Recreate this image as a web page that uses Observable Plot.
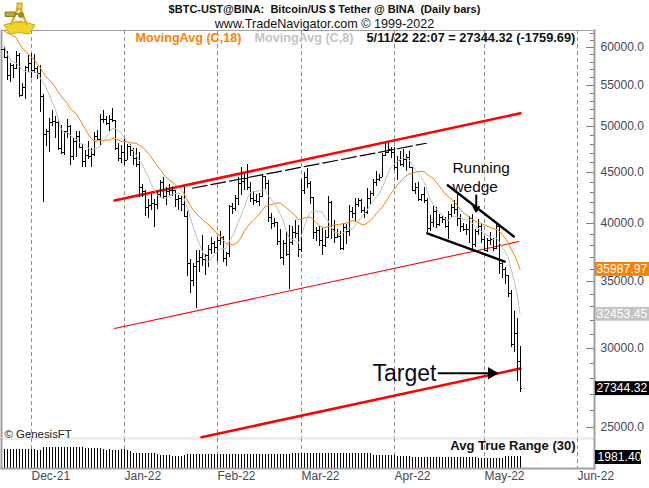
<!DOCTYPE html>
<html><head><meta charset="utf-8">
<script src="https://cdn.jsdelivr.net/npm/d3@7"></script>
<script src="https://cdn.jsdelivr.net/npm/@observablehq/plot@0.6"></script>
<style>
html,body{margin:0;padding:0;background:#fff;font-family:"Liberation Sans",Arial,sans-serif}
#wrap{position:relative;width:649px;height:488px;overflow:hidden}
#head{height:30px;position:relative;text-align:center;width:649px}
#t1{position:absolute;left:0;width:649px;top:2px;font-size:11px;line-height:14px;font-weight:bold;color:#111;white-space:pre}
#t2{position:absolute;left:0;width:649px;top:16px;font-size:12.6px;line-height:16px;color:#111}
#logo{position:absolute;left:0;top:0;z-index:5}
svg{display:block}
</style></head><body>
<div id="wrap">
<svg id="logo" width="40" height="36" viewBox="0 0 40 36">
<path d="M4 25 Q19 19 35 25 L29 34 Q19 31 10 34 Z" fill="#f0d428" stroke="#c8a818" stroke-width="1"/>
<path d="M19 5 L11 25 M19 5 L27 25 M15 22 L23 22" fill="none" stroke="#d8b820" stroke-width="2.4"/>
<path d="M17 3 L22 3 L22 9 L17 9 Z" fill="#f0d428" stroke="#b09018" stroke-width="0.8"/>
<path d="M5 12 L15 12 L15 16.5 L5 16.5 Z" fill="#c4a828" stroke="#7a6a18" stroke-width="0.8"/>
<path d="M15 14 L20 14" stroke="#7a6a18" stroke-width="1.5"/>
<circle cx="21" cy="15" r="3" fill="#a88a18"/>
</svg>
<div id="head">
<div id="t1">$BTC-UST@BINA:  Bitcoin/US $ Tether @ BINA  (Daily bars)</div>
<div id="t2">www.TradeNavigator.com © 1999-2022</div>
</div>
<div id="upper"></div>
<div id="lower"></div>
</div>
<script>
const firstBar = "2021-11-21T20:00Z";
const priorCloses = [62932,61444,60971,61525,63273,67525,66947,64882,64774,64122,64380,65519,63606,60058,60344,56891,58052,59707];
const highs = [60037,59444,57875,57724,59398,59150,55280,57445,58865,59176,
59053,57375,57600,53859,49699,50891,51936,51200,50797,50125,49485,50777,50189,48700,49500,49436,48004,47360,48300,47537,49328,49576,51375,51864,51156,51280,52088,50704,48139,47900,48548,
47954,47990,47570,47505,47070,43748,43145,42300,42787,42248,43100,44135,44500,43459,43800,43475,43176,42691,42575,43505,41100,36835,36499,37550,37545,38919,37234,38000,38720,38359,38744,
39265,38855,37387,41688,41913,42656,44500,45492,44799,45821,43920,43079,42760,42876,44751,44549,44164,40959,40444,40125,39494,38429,39249,39843,39683,40300,39855,44225,
44949,45400,44101,42506,39613,39693,39547,39362,42594,42039,40236,39486,39310,39947,39887,41718,41478,42325,42400,42296,41544,43361,43025,44220,45094,44792,46999,48189,48096,47700,47600,
46720,47213,47444,46890,47200,45507,43900,43970,42800,43410,42414,40699,41561,41500,40870,40709,40595,41116,41760,42199,42976,40795,39980,39940,40616,40797,39474,40372,39925,38795,
38675,39167,38650,40023,39845,36644,36129,35514,34243,32658,32162,30100];
const lows = [58515,55610,55317,55837,57000,53500,53610,53256,56666,55875,
56458,55777,51680,42000,47727,47100,50039,48600,47320,46852,46751,48638,45672,46290,46547,47511,45456,45500,46406,45558,46630,48421,47920,50414,50182,49412,50449,47313,46096,45900,45678,
46208,46654,45696,45516,42500,42430,40610,40501,41200,39650,41268,42450,42311,41725,42563,42581,41540,41250,41150,40553,35440,34008,34601,32917,35701,36234,35507,36155,37268,37351,36632,
38000,36586,36250,37026,40843,41116,41645,42666,43117,43174,41938,41688,41870,41550,42427,43307,40073,39450,39639,38000,36800,36350,37036,34322,38014,38600,37000,37450,
42809,43334,41832,38550,38407,37957,37155,37867,38656,38539,38223,38660,37578,37555,38098,38828,40500,40135,41499,40911,40467,40875,41751,42560,43579,44071,44422,46663,46950,46445,45200,
44200,45620,45530,45118,45353,43121,42727,42107,42125,41868,39200,39254,39588,39551,39766,39991,39546,38536,40571,40820,39751,39177,39285,38929,38200,37702,37881,38881,38175,37578,
37386,38052,37518,37670,35571,35258,34785,33713,30033,29730,27785,27100];
const closes = [58617,56247,57541,57138,58960,53726,54721,57274,57776,56950,
57184,56480,53601,49152,49396,50441,50588,50471,47545,47140,49389,50053,46702,48343,48864,47632,46131,46834,46681,46914,48889,48588,50838,50820,50399,50775,50701,47543,46464,47120,46216,
47722,47287,46446,45833,43431,43097,41547,41672,41846,41822,42735,43921,42591,43099,43178,43113,42250,42375,41744,40680,36445,35071,36244,36660,36958,36809,37160,37716,38166,37881,38466,
38691,36896,37311,41574,41382,42380,43839,44042,44372,43495,42373,42217,42053,42535,44544,43873,40515,39974,40079,38386,37008,38230,37250,38327,39219,39116,37699,43160,
44421,43892,42454,39148,39397,38420,37988,38730,41941,39422,38729,38807,37777,39671,39280,41114,40917,41757,42201,41262,41002,42364,42882,43991,44313,44511,46827,47122,47434,47067,45510,
46283,45811,46407,46580,45497,43170,43444,42252,42753,42158,39530,40074,41147,39942,40551,40378,39678,40801,41500,41358,40480,39709,39441,39450,40426,38112,39235,39742,38596,37630,
38468,38529,37750,39695,36500,36007,35502,34060,30296,31022,29104,27344];
const atr = [3135,3120,3100,3135,3080,3080,3110,3080,3060,3080,3060,3000,3050,
3465,3465,3465,3450,3465,3465,3465,3465,3465,3465,3465,3465,3465,3440,
3300,3300,3300,3250,3300,3250,
3100,3050,3080,3050,3050,3050,3080,3080,
3000,2800,
2475,2475,2475,2475,2420,2420,2420,2420,2350,
2200,2150,2150,2100,
2040,2040,2040,2040,2100,
2310,2310,2310,2310,2310,2310,2310,2310,2310,2310,
2230,2230,2230,2230,2230,2230,2230,2230,2230,2230,2230,2230,2230,2230,2230,2230,2230,
2250,2250,2250,2250,2250,2250,2250,2250,
2450,2450,2450,2450,2450,2450,2450,2450,2450,2450,2450,
2475,2475,2475,2475,2470,2470,2460,2450,2450,2440,2430,2420,2410,2400,2400,2400,
2200,2200,2200,2200,2200,2200,2200,2200,
1925,1925,1920,1910,1900,1890,1880,1870,1860,1850,1850,
1815,1815,1815,1815,1815,1815,1815,1815,1815,1815,1815,1815,1815,1815,1815,1815,
1730,1730,1730,1730,1730,1730,1730,1730,1730,
1925,1950,1960,1970,1975,1981];
const monthTicks = ["2021-12-01","2022-01-01","2022-02-01","2022-03-01","2022-04-01","2022-05-01","2022-06-01"];
const priceTicks = [25000,30000,35000,40000,45000,50000,55000,60000];
const minorTicks = [26000,27000,28000,29000,31000,32000,33000,34000,36000,37000,38000,39000,41000,42000,43000,44000,46000,47000,48000,49000,51000,52000,53000,54000,56000,57000,58000,59000,61000,62000];
const channelTop = [["2021-12-28T16:00Z",42175],["2022-05-13T00:00Z",51570]];
const channelMid = [["2021-12-28T16:00Z",31405],["2022-05-12T12:00Z",38370]];
const channelLow = [["2022-01-26T16:00Z",24445],["2022-05-13T00:00Z",28640]];
const dashedTop = [["2022-01-23T14:00Z",43385],["2022-04-11T14:00Z",48125]];
const wedgeTop = [["2022-04-18T18:00Z",43685],["2022-05-10T18:00Z",38820]];
const wedgeLow = [["2022-04-11T22:00Z",39110],["2022-05-07T18:00Z",36640]];
const targetArrow = [["2022-04-15T16:00Z",28325],["2022-05-03T08:00Z",28325]];
const badges = [{v:35987.97,c:"#ff8000"},{v:32453.45,c:"#c4c4c4"},{v:27344.32,c:"#000000"}];

const D = s => new Date(s);
const DAY = 864e5;
const pts = a => a.map(([d,v]) => ({d:D(d),v}));
const t0 = +D(firstBar);
const bars = closes.map((c,i) => ({date:new Date(t0+i*DAY),high:highs[i],low:lows[i],close:c,open:i?closes[i-1]:priorCloses[priorCloses.length-1],atr:atr[i]}));
const closeRows = priorCloses.map((c,i) => ({date:new Date(t0-(priorCloses.length-i)*DAY),close:c})).concat(bars.map(b => ({date:b.date,close:b.close})));
const xScale = {type:"utc",domain:[D("2021-11-21T00:00Z"),D("2022-06-06T16:00Z")],range:[1,594],axis:null};
const xEnd = D("2022-06-06T16:00Z");
const xMaj = D("2022-06-04T00:00Z");
const xMin = D("2022-06-05T08:00Z");
const bx1 = D("2022-06-07T00:00Z"), bx2 = D("2022-06-25T00:00Z");
const months = monthTicks.map(D);
const font = {fontFamily:"Liberation Sans, Arial, sans-serif",fontSize:"12px",background:"#fff",overflow:"visible",display:"block"};
const redLine = (a,w) => Plot.line(pts(a),{x:"d",y:"v",stroke:"#ff0000",strokeWidth:w});
const blackLine = (a,w,extra={}) => Plot.line(pts(a),{x:"d",y:"v",stroke:"#000",strokeWidth:w,...extra});

const upper = Plot.plot({
  width:649,height:408,marginLeft:1,marginRight:55,marginTop:0,marginBottom:0,style:font,
  x:xScale,
  y:{type:"log",domain:[24374,62397],range:[408,0]},
  marks:[
    Plot.ruleX(months,{stroke:"#909090",strokeDasharray:"4,3",strokeWidth:1,shapeRendering:"crispEdges"}),
    Plot.frame({anchor:"left",stroke:"#a0a0a0",strokeWidth:2}),
    Plot.frame({anchor:"top",stroke:"#a0a0a0",strokeWidth:1}),
    Plot.frame({anchor:"right",stroke:"#a0a0a0",strokeWidth:2}),
    Plot.frame({anchor:"bottom",stroke:"#eeeeee",strokeWidth:3}),
    Plot.ruleY(priceTicks,{x1:xMaj,x2:xEnd,stroke:"#808080",shapeRendering:"crispEdges"}),
    Plot.ruleY(minorTicks,{x1:xMin,x2:xEnd,stroke:"#808080",shapeRendering:"crispEdges"}),
    Plot.axisY({anchor:"right",ticks:priceTicks,tickFormat:d=>d.toFixed(1),tickSize:0,tickPadding:6,label:null,fill:"#44485a",fontSize:12}),
    redLine(channelTop,2.6),
    redLine(channelMid,1.1),
    redLine(channelLow,2.6),
    Plot.ruleX(bars,{x:"date",y1:"low",y2:"high",stroke:"#000",strokeWidth:1,shapeRendering:"crispEdges"}),
    Plot.ruleY(bars,{y:"open",x1:d=>new Date(+d.date-0.7*DAY),x2:"date",stroke:"#000",strokeWidth:1,shapeRendering:"crispEdges"}),
    Plot.ruleY(bars,{y:"close",x1:"date",x2:d=>new Date(+d.date+0.7*DAY),stroke:"#000",strokeWidth:1,shapeRendering:"crispEdges"}),
    Plot.line(closeRows,Plot.windowY({k:18,anchor:"end",reduce:"mean",strict:true},{x:"date",y:"close",stroke:"#ff8000",strokeWidth:1,clip:true})),
    Plot.line(closeRows.slice(priorCloses.length-7),Plot.windowY({k:8,anchor:"end",reduce:"mean",strict:true},{x:"date",y:"close",stroke:"#c0c0c0",strokeWidth:1,clip:true})),
    blackLine(dashedTop,1.2,{strokeDasharray:"15,4"}),
    blackLine(wedgeTop,2.4),
    blackLine(wedgeLow,2.4),
    blackLine(targetArrow,2),
    Plot.dot([targetArrow[1]],{x:d=>D(d[0]),y:d=>d[1],symbol:"triangle",r:4.6,rotate:90,fill:"#000",stroke:"none"}),
    Plot.arrow([{x:D("2022-04-28T06:00Z"),y1:42665,y2:41120}],{x1:"x",x2:"x",y1:"y1",y2:"y2",stroke:"#000",strokeWidth:2,headLength:7,bend:0}),
    Plot.text(["Running"],{x:D("2022-04-20T08:00Z"),y:45400,textAnchor:"start",fontSize:15.4,fill:"#0a0a14"}),
    Plot.text(["wedge"],{x:D("2022-04-20T08:00Z"),y:43460,textAnchor:"start",fontSize:15.4,fill:"#0a0a14"}),
    Plot.text(["Target"],{x:D("2022-03-24T16:00Z"),y:28280,textAnchor:"start",fontSize:23,fill:"#0a0a14"}),
    Plot.text(["© GenesisFT"],{frameAnchor:"bottom-left",dx:3,dy:-1,fontSize:11.4,fill:"#222"}),
    Plot.text(["MovingAvg (C,18)"],{frameAnchor:"top-left",dx:134,dy:2.5,fontSize:12.6,fontWeight:"bold",fill:"#ff8000"}),
    Plot.text(["MovingAvg (C,8)"],{frameAnchor:"top-left",dx:253,dy:2.5,fontSize:12.6,fontWeight:"bold",fill:"#c4c4c4"}),
    Plot.text(["5/11/22 22:07 = 27344.32 (-1759.69)"],{frameAnchor:"top-left",dx:365,dy:2.5,fontSize:12.8,fontWeight:"bold",fill:"#111"}),
    Plot.rect(badges,{x1:bx1,x2:bx2,y1:d=>d.v*0.984,y2:d=>d.v*1.016,fill:"c"}),
    Plot.text(badges,{x:bx1,y:"v",text:d=>d.v.toFixed(2),textAnchor:"start",dx:1,fill:"#fff",fontSize:12.2})
  ]
});
document.getElementById("upper").append(upper);

const lower = Plot.plot({
  width:649,height:50,marginLeft:1,marginRight:55,marginTop:0,marginBottom:20,style:font,
  x:xScale,
  y:{domain:[0,4950],range:[30,0],axis:null},
  marks:[
    Plot.ruleX(months,{stroke:"#909090",strokeDasharray:"4,3",strokeWidth:1,shapeRendering:"crispEdges"}),
    Plot.ruleX(bars,{x:"date",y1:0,y2:"atr",stroke:"#000",strokeWidth:1,shapeRendering:"crispEdges"}),
    Plot.frame({anchor:"left",stroke:"#a0a0a0",strokeWidth:2}),
    Plot.frame({anchor:"right",stroke:"#a0a0a0",strokeWidth:2}),
    Plot.frame({anchor:"bottom",stroke:"#a0a0a0",strokeWidth:2}),
    Plot.axisX({anchor:"bottom",ticks:months,tickFormat:d3.utcFormat("%b-%y"),tickSize:0,tickPadding:3,textAnchor:"start",label:null,fill:"#44485a",fontSize:12}),
    Plot.text(["Avg True Range (30)"],{frameAnchor:"top-right",dx:-19,dy:2.5,fontSize:13,fontWeight:"bold",fill:"#111"}),
    Plot.rect([1981.4],{x1:bx1,x2:D("2022-06-22T08:00Z"),y1:660,y2:2970,fill:"#000"}),
    Plot.text([1981.4],{x:bx1,y:1815,text:d=>d.toFixed(2),textAnchor:"start",dx:2,fill:"#fff",fontSize:12.2})
  ]
});
document.getElementById("lower").append(lower);
</script>
</body></html>
